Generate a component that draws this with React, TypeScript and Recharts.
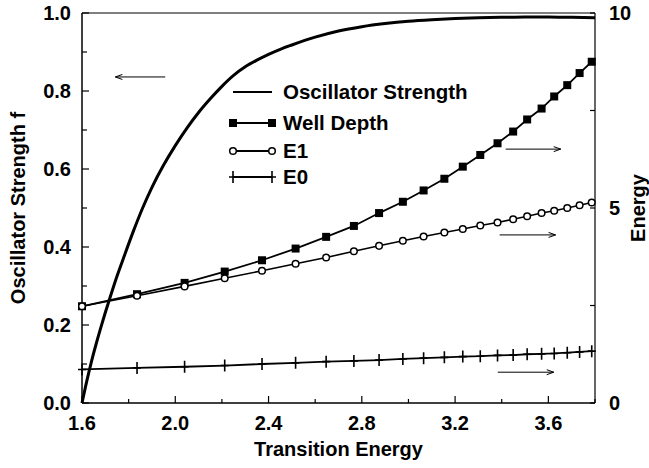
import { ComposedChart, Line, XAxis, YAxis, ReferenceLine, Legend } from 'recharts'

// shared transition-energy positions of the marker series
const TRANSITION_E = [
  1.6, 1.836, 2.04, 2.212, 2.372, 2.516, 2.647, 2.766, 2.874, 2.976, 3.065,
  3.154, 3.233, 3.308, 3.382, 3.449, 3.509, 3.571, 3.625, 3.681, 3.734, 3.786,
]
const WELL_DEPTH = [
  2.48, 2.79, 3.08, 3.37, 3.66, 3.96, 4.26, 4.54, 4.87, 5.16, 5.45,
  5.75, 6.06, 6.36, 6.66, 6.96, 7.27, 7.55, 7.86, 8.15, 8.46, 8.75,
]
const E1 = [
  2.48, 2.75, 2.99, 3.2, 3.39, 3.57, 3.73, 3.89, 4.03, 4.16, 4.27,
  4.37, 4.46, 4.55, 4.63, 4.71, 4.79, 4.87, 4.93, 5.0, 5.07, 5.14,
]
const E0 = [
  0.86, 0.9, 0.93, 0.96, 1.0, 1.03, 1.06, 1.08, 1.1, 1.13, 1.15,
  1.17, 1.19, 1.2, 1.22, 1.23, 1.25, 1.26, 1.27, 1.29, 1.31, 1.33,
]

const OSC_X = [
  1.6, 1.62, 1.64, 1.66, 1.68, 1.7, 1.72, 1.75, 1.78, 1.82, 1.86, 1.9, 1.95, 2.0, 2.05, 2.1,
  2.15, 2.2, 2.25, 2.3, 2.35, 2.4, 2.45, 2.5, 2.6, 2.7, 2.8, 2.9, 3.0, 3.1, 3.2, 3.3,
  3.4, 3.5, 3.6, 3.7, 3.8,
]
const OSC_F = [
  0, 0.055, 0.105, 0.15, 0.192, 0.232, 0.27, 0.325, 0.375, 0.44, 0.5, 0.553, 0.61, 0.66, 0.705, 0.745,
  0.78, 0.812, 0.84, 0.862, 0.879, 0.894, 0.907, 0.918, 0.938, 0.954, 0.965, 0.973, 0.979, 0.983, 0.986, 0.988,
  0.989, 0.99, 0.99, 0.989, 0.988,
]

const X_TICKS = [1.6, 1.8, 2.0, 2.2, 2.4, 2.6, 2.8, 3.0, 3.2, 3.4, 3.6, 3.8]
const X_LABELS = ['1.6', '2.0', '2.4', '2.8', '3.2', '3.6']
const F_TICKS = [0, 0.1, 0.2, 0.3, 0.4, 0.5, 0.6, 0.7, 0.8, 0.9, 1.0]
const F_LABELS = ['0.0', '0.2', '0.4', '0.6', '0.8', '1.0']
const E_TICKS = [0, 2.5, 5, 7.5, 10]
const E_LABELS = ['0', '5', '10']

// little arrows telling which axis a curve belongs to
const ARROW_F = [{ x: 1.957, y: 0.836 }, { x: 1.743, y: 0.836 }]
const ARROWS_E = [
  [{ x: 3.417, y: 6.51 }, { x: 3.653, y: 6.51 }],
  [{ x: 3.391, y: 4.31 }, { x: 3.631, y: 4.31 }],
  [{ x: 3.383, y: 0.79 }, { x: 3.623, y: 0.79 }],
]

const toPoints = (xs: number[], ys: number[]) => xs.map((x, i) => ({ x, y: ys[i] }))
const oscData = toPoints(OSC_X, OSC_F)
const wellData = toPoints(TRANSITION_E, WELL_DEPTH)
const e1Data = toPoints(TRANSITION_E, E1)
const e0Data = toPoints(TRANSITION_E, E0)

const FONT = '"Liberation Sans", Arial, Helvetica, sans-serif'
const txt = { fontFamily: FONT, fontWeight: 700, fontSize: 20, fill: '#000' } as const

const LEFT_GAP = 11
const RIGHT_GAP = 14
const BOTTOM_GAP = 20

function LeftTick({ x, y, payload }: any) {
  const label = Number(payload.value).toFixed(1)
  const major = F_LABELS.includes(label)
  const ax = x + LEFT_GAP
  return (
    <g>
      <line x1={ax} x2={ax + (major ? 7 : 5)} y1={y} y2={y} stroke="#000" strokeWidth={1.2} />
      {major && (
        <text x={x} y={y} dy="0.36em" textAnchor="end" style={txt}>
          {label}
        </text>
      )}
    </g>
  )
}

function RightTick({ x, y, payload }: any) {
  const label = String(payload.value)
  const major = E_LABELS.includes(label)
  const ax = x - RIGHT_GAP
  return (
    <g>
      <line x1={ax} x2={ax - 5} y1={y} y2={y} stroke="#000" strokeWidth={1.2} />
      {major && (
        <text x={x} y={y} dy="0.36em" textAnchor="start" style={txt}>
          {label}
        </text>
      )}
    </g>
  )
}

function BottomTick({ x, y, payload }: any) {
  const label = Number(payload.value).toFixed(1)
  const major = X_LABELS.includes(label)
  const ay = y - BOTTOM_GAP
  return (
    <g>
      <line x1={x} x2={x} y1={ay} y2={ay - (major ? 7 : 4)} stroke="#000" strokeWidth={1.2} />
      {major && (
        <text x={x} y={y} dy="0.36em" textAnchor="middle" style={txt}>
          {label}
        </text>
      )}
    </g>
  )
}

const square = (p: any) => (
  <rect key={`sq-${p.index}`} x={p.cx - 4} y={p.cy - 4} width={8} height={8} fill="#000" />
)
const ring = (p: any) => (
  <circle key={`ci-${p.index}`} cx={p.cx} cy={p.cy} r={3.3} fill="#fff" stroke="#000" strokeWidth={1.5} />
)
const plus = (p: any) => (
  <path
    key={`pl-${p.index}`}
    d={`M${p.cx},${p.cy - 6}V${p.cy + 6}M${p.cx - 4},${p.cy}H${p.cx + 4}`}
    stroke="#000"
    strokeWidth={1.6}
    fill="none"
  />
)

function Arrow(p: any) {
  const { x1, y1, x2, y2 } = p
  const dir = Math.sign(x2 - x1)
  return (
    <g>
      <line x1={x1} y1={y1} x2={x2} y2={y2} stroke="#000" strokeWidth={1} />
      <path
        d={`M${x2 - dir * 7},${y2 - 2.5}L${x2},${y2}L${x2 - dir * 7},${y2 + 2.5}`}
        fill="none"
        stroke="#000"
        strokeWidth={1}
      />
    </g>
  )
}

function LegendBox() {
  const rows = [
    { name: 'Oscillator Strength', cy: 14, mark: null },
    { name: 'Well Depth', cy: 45, mark: 'square' },
    { name: 'E1', cy: 73, mark: 'ring' },
    { name: 'E0', cy: 99, mark: 'plus' },
  ]
  return (
    <svg width={260} height={112} style={{ overflow: 'visible' }}>
      {rows.map((r) => (
        <g key={r.name}>
          <line x1={5} x2={44} y1={r.cy} y2={r.cy} stroke="#000" strokeWidth={r.mark ? 1.8 : 2.2} />
          {[5, 44].map((cx, i) =>
            r.mark === 'square'
              ? square({ cx, cy: r.cy, index: `${r.name}${i}` })
              : r.mark === 'ring'
                ? ring({ cx, cy: r.cy, index: `${r.name}${i}` })
                : r.mark === 'plus'
                  ? plus({ cx, cy: r.cy, index: `${r.name}${i}` })
                  : null,
          )}
          <text x={55} y={r.cy} dy="0.36em" style={{ ...txt, fontSize: 20.5 }}>
            {r.name}
          </text>
        </g>
      ))}
    </svg>
  )
}

export default function App() {
  return (
    <div style={{ position: 'absolute', left: 0, top: 0, width: 649, height: 468, background: '#fff' }}>
      <ComposedChart width={649} height={468} margin={{ top: 13, right: 0, bottom: 0, left: 0 }}>
        <XAxis
          dataKey="x"
          type="number"
          domain={[1.6, 3.8]}
          ticks={X_TICKS}
          interval={0}
          height={65}
          tickSize={0}
          tickMargin={BOTTOM_GAP}
          tickLine={false}
          axisLine={{ stroke: '#000', strokeWidth: 1.5 }}
          tick={<BottomTick />}
          label={(p: any) => (
            <text
              x={p.viewBox.x + p.viewBox.width / 2}
              y={p.viewBox.y + 53}
              textAnchor="middle"
              style={txt}
            >
              Transition Energy
            </text>
          )}
        />
        <YAxis
          yAxisId="f"
          orientation="left"
          type="number"
          domain={[0, 1]}
          ticks={F_TICKS}
          interval={0}
          width={82}
          tickSize={0}
          tickMargin={LEFT_GAP}
          tickLine={false}
          axisLine={{ stroke: '#000', strokeWidth: 1.5 }}
          tick={<LeftTick />}
          label={(p: any) => (
            <text
              x={p.viewBox.x + 18}
              y={p.viewBox.y + p.viewBox.height / 2}
              transform={`rotate(-90 ${p.viewBox.x + 18} ${p.viewBox.y + p.viewBox.height / 2})`}
              textAnchor="middle"
              dy="0.36em"
              style={txt}
            >
              Oscillator Strength f
            </text>
          )}
        />
        <YAxis
          yAxisId="E"
          orientation="right"
          type="number"
          domain={[0, 10]}
          ticks={E_TICKS}
          interval={0}
          width={54}
          tickSize={0}
          tickMargin={RIGHT_GAP}
          tickLine={false}
          axisLine={{ stroke: '#000', strokeWidth: 1.2 }}
          tick={<RightTick />}
          label={(p: any) => (
            <text
              x={p.viewBox.x + 43}
              y={p.viewBox.y + p.viewBox.height / 2}
              transform={`rotate(-90 ${p.viewBox.x + 43} ${p.viewBox.y + p.viewBox.height / 2})`}
              textAnchor="middle"
              dy="0.36em"
              style={txt}
            >
              Energy
            </text>
          )}
        />

        <ReferenceLine yAxisId="f" y={1} stroke="#000" strokeWidth={1.2} />

        <Line
          yAxisId="f"
          data={oscData}
          dataKey="y"
          type="monotone"
          stroke="#000"
          strokeWidth={3}
          dot={false}
          isAnimationActive={false}
        />
        <Line
          yAxisId="E"
          data={wellData}
          dataKey="y"
          type="linear"
          stroke="#000"
          strokeWidth={1.8}
          dot={square}
          isAnimationActive={false}
        />
        <Line
          yAxisId="E"
          data={e1Data}
          dataKey="y"
          type="linear"
          stroke="#000"
          strokeWidth={1.6}
          dot={ring}
          isAnimationActive={false}
        />
        <Line
          yAxisId="E"
          data={e0Data}
          dataKey="y"
          type="linear"
          stroke="#000"
          strokeWidth={1.8}
          dot={plus}
          isAnimationActive={false}
        />

        <ReferenceLine yAxisId="f" segment={ARROW_F} shape={Arrow} />
        {ARROWS_E.map((seg, i) => (
          <ReferenceLine key={i} yAxisId="E" segment={seg} shape={Arrow} />
        ))}

        <Legend
          layout="vertical"
          align="center"
          verticalAlign="middle"
          content={<LegendBox />}
          wrapperStyle={{ left: 228, top: 78, width: 260, height: 112 }}
        />
      </ComposedChart>
    </div>
  )
}
